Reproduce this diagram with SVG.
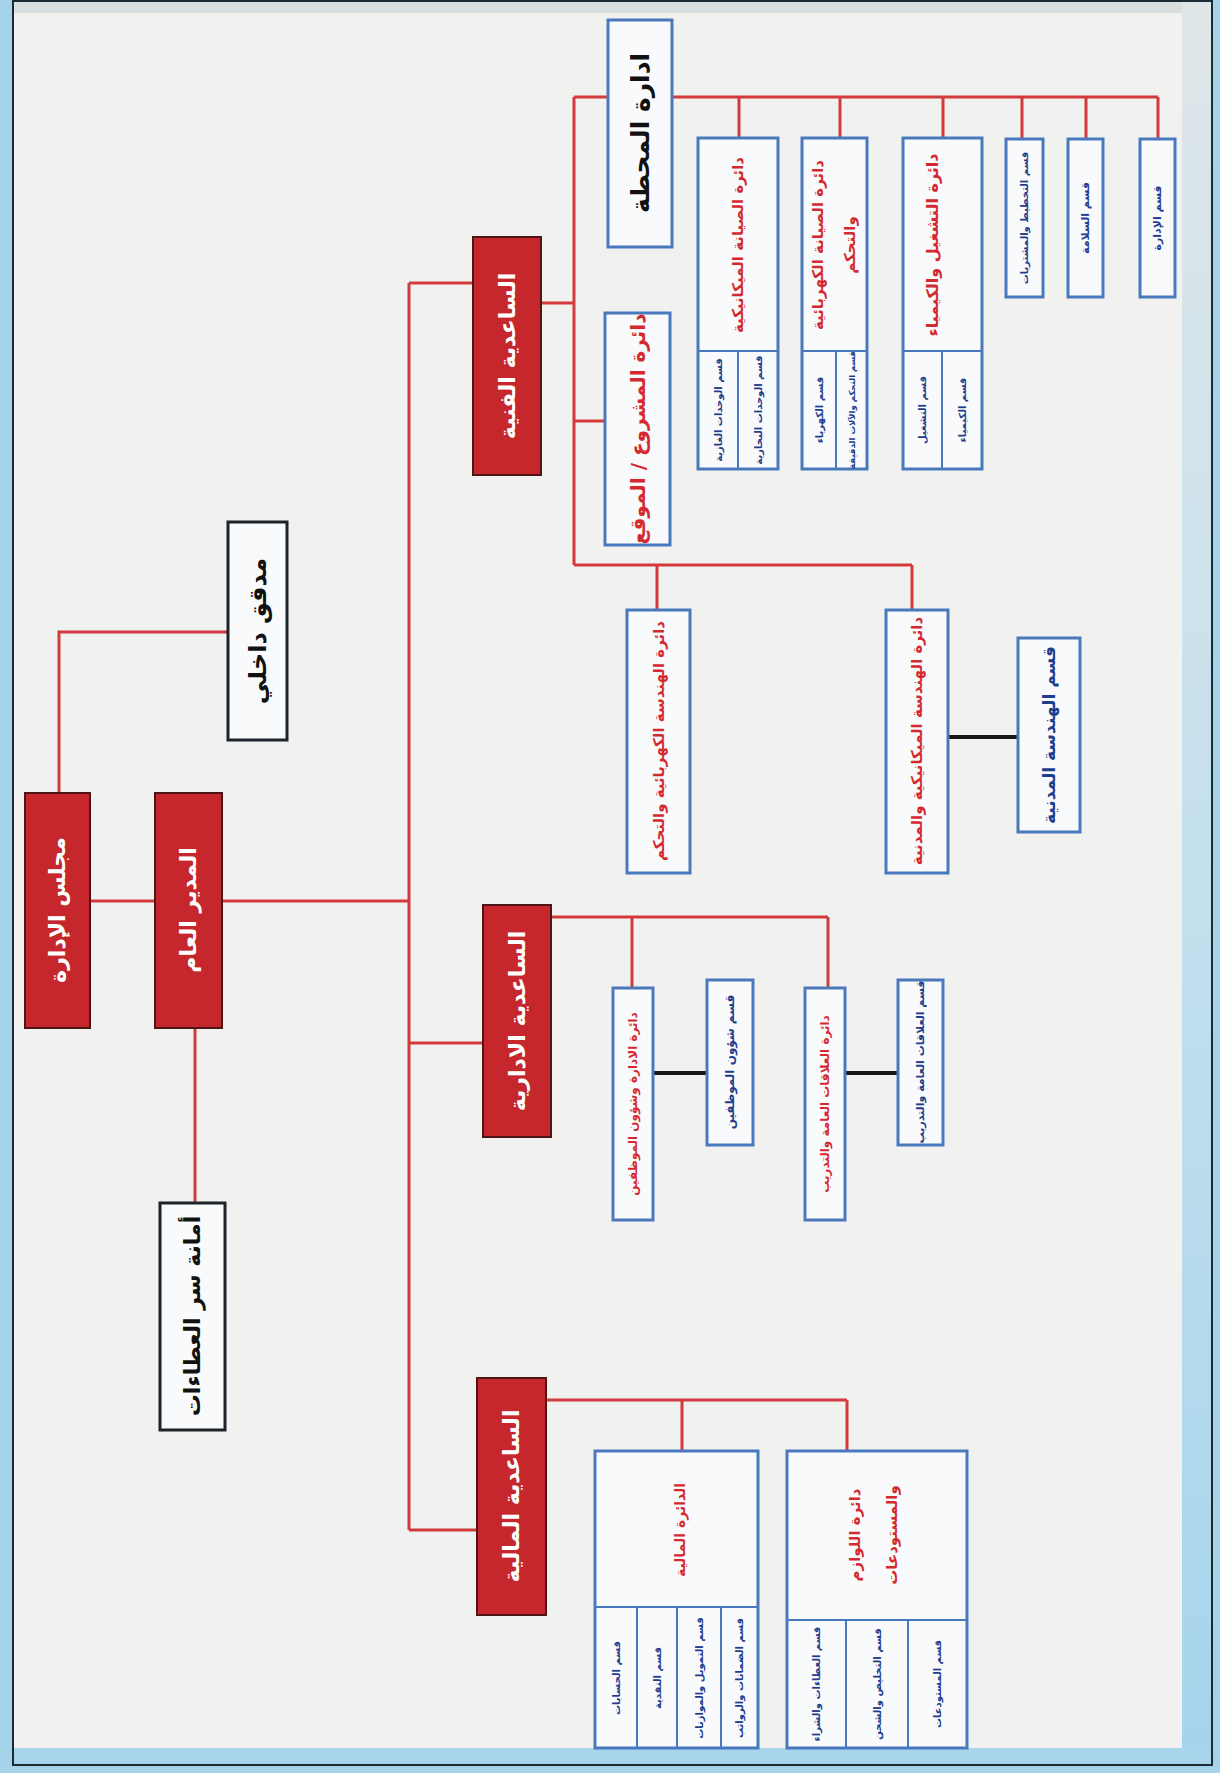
<svg xmlns="http://www.w3.org/2000/svg" width="1220" height="1773" viewBox="0 0 1220 1773">
<defs>
<linearGradient id="rm" x1="0" y1="0" x2="0" y2="1">
<stop offset="0" stop-color="#dfe6e8"/>
<stop offset="0.5" stop-color="#c4e0ee"/>
<stop offset="1" stop-color="#a6d4ec"/>
</linearGradient>
<style>
text{font-family:"DejaVu Sans","Noto Sans",sans-serif;font-weight:bold;text-anchor:middle;dominant-baseline:central}
.red rect{fill:#c5272c;stroke:#4d1515;stroke-width:2}
.red text{fill:#ffffff;font-size:22px}
.wb rect,.wb line{fill:#f9fafb;stroke:#4a78bd;stroke-width:3}
.wb line.d{stroke-width:2}
.kb rect{fill:#f9fafb;stroke:#1d2328;stroke-width:3}
.kb text{fill:#111111}
.tr{fill:#d42a2f}
.tb{fill:#1f3d8e}
.tk{fill:#111111}
#connectors path{fill:none;stroke:#d23a3c;stroke-width:3}
#connectors path.k{stroke:#161616;stroke-width:4}
</style>
</defs>
<rect x="0" y="0" width="1220" height="1773" fill="#a5d3ea"/>
<rect x="13" y="1" width="1199" height="1764" fill="#a9d5ec" stroke="#1b2b33" stroke-width="2"/>
<rect x="14" y="2" width="1197" height="11" fill="#d9dfe0"/>
<rect x="1182" y="2" width="29" height="1746" fill="url(#rm)"/>
<rect x="14" y="13" width="1168" height="1735" fill="#f1f2f0"/>

<g id="connectors">
<path d="M59,793 V632 H228"/>
<path d="M90,901 H155"/>
<path d="M222,901 H409"/>
<path d="M195,1028 V1203"/>
<path d="M409,283 V1530"/>
<path d="M409,283 H473"/>
<path d="M409,1043 H483"/>
<path d="M409,1530 H477"/>
<path d="M541,303 H574"/>
<path d="M574,97 V565"/>
<path d="M574,97 H608"/>
<path d="M672,97 H1158"/>
<path d="M739,97 V138"/>
<path d="M840,97 V138"/>
<path d="M943,97 V138"/>
<path d="M1022,97 V139"/>
<path d="M1086,97 V139"/>
<path d="M1158,97 V139"/>
<path d="M574,421 H605"/>
<path d="M574,565 H912"/>
<path d="M657,565 V610"/>
<path d="M912,565 V610"/>
<path d="M551,917 H828"/>
<path d="M632,917 V988"/>
<path d="M828,917 V988"/>
<path d="M546,1400 H847"/>
<path d="M682,1400 V1451"/>
<path d="M847,1400 V1451"/>
<path class="k" d="M948,737 H1018"/>
<path class="k" d="M653,1073 H707"/>
<path class="k" d="M845,1073 H898"/>
</g>

<g id="n-majlis" class="red"><rect x="25" y="793" width="65" height="235"/><text transform="translate(57.5 910) rotate(-90)">مجلس الإدارة</text></g>
<g id="n-mudir" class="red"><rect x="155" y="793" width="67" height="235"/><text transform="translate(188.5 910) rotate(-90)">المدير العام</text></g>
<g id="n-mudaqqiq" class="kb"><rect x="228" y="522" width="59" height="218"/><text font-size="24" transform="translate(257.5 631) rotate(-90)">مدقق داخلي</text></g>
<g id="n-amana" class="kb"><rect x="160" y="1203" width="65" height="227"/><text font-size="22" transform="translate(192.5 1316) rotate(-90)">أمانة سر العطاءات</text></g>

<g id="n-fanniya" class="red"><rect x="473" y="237" width="68" height="238"/><text transform="translate(507 356) rotate(-90)">الساعدية الفنية</text></g>
<g id="n-idariya" class="red"><rect x="483" y="905" width="68" height="232"/><text transform="translate(517 1021) rotate(-90)">الساعدية الادارية</text></g>
<g id="n-maliya" class="red"><rect x="477" y="1378" width="69" height="237"/><text transform="translate(511.5 1496) rotate(-90)">الساعدية المالية</text></g>

<g id="n-mahatta" class="wb"><rect x="608" y="20" width="64" height="227"/><text class="tk" font-size="25" transform="translate(640 133) rotate(-90)">ادارة المحطة</text></g>
<g id="n-mashroo" class="wb"><rect x="605" y="313" width="65" height="232"/><text class="tr" font-size="20" transform="translate(637.5 429) rotate(-90)">دائرة المشروع / الموقع</text></g>

<g id="n-siyana-mech" class="wb"><rect x="698" y="138" width="80" height="331"/><line class="d" x1="698" y1="351" x2="778" y2="351"/><line class="d" x1="738" y1="351" x2="738" y2="469"/>
<text class="tr" font-size="15" transform="translate(738 245) rotate(-90)">دائرة الصيانة الميكانيكية</text>
<text class="tb" font-size="10" transform="translate(718 410) rotate(-90)">قسم الوحدات الغازية</text>
<text class="tb" font-size="10" transform="translate(758 410) rotate(-90)">قسم الوحدات البخارية</text></g>

<g id="n-siyana-elec" class="wb"><rect x="802" y="138" width="65" height="331"/><line class="d" x1="802" y1="351" x2="867" y2="351"/><line class="d" x1="836" y1="351" x2="836" y2="469"/>
<text class="tr" font-size="15" transform="translate(818 245) rotate(-90)">دائرة الصيانة الكهربائية</text>
<text class="tr" font-size="15" transform="translate(850 245) rotate(-90)">والتحكم</text>
<text class="tb" font-size="10" transform="translate(819 410) rotate(-90)">قسم الكهرباء</text>
<text class="tb" font-size="8.5" transform="translate(851.5 410) rotate(-90)">قسم التحكم والآلات الدقيقة</text></g>

<g id="n-tashgheel" class="wb"><rect x="903" y="138" width="79" height="331"/><line class="d" x1="903" y1="351" x2="982" y2="351"/><line class="d" x1="942" y1="351" x2="942" y2="469"/>
<text class="tr" font-size="16" transform="translate(932 245) rotate(-90)">دائرة التشغيل والكيمياء</text>
<text class="tb" font-size="10" transform="translate(922.5 410) rotate(-90)">قسم التشغيل</text>
<text class="tb" font-size="10" transform="translate(962 410) rotate(-90)">قسم الكيمياء</text></g>

<g id="n-takhteet" class="wb"><rect x="1006" y="139" width="37" height="158"/><text class="tb" font-size="10" transform="translate(1024.5 218) rotate(-90)">قسم التخطيط والمشتريات</text></g>
<g id="n-salama" class="wb"><rect x="1068" y="139" width="35" height="158"/><text class="tb" font-size="11" transform="translate(1085.5 218) rotate(-90)">قسم السلامة</text></g>
<g id="n-idara" class="wb"><rect x="1140" y="139" width="35" height="158"/><text class="tb" font-size="11" transform="translate(1157.5 218) rotate(-90)">قسم الإدارة</text></g>

<g id="n-hand-elec" class="wb"><rect x="627" y="610" width="63" height="263"/><text class="tr" font-size="15" transform="translate(658.5 741) rotate(-90)">دائرة الهندسة الكهربائية والتحكم</text></g>
<g id="n-hand-mech" class="wb"><rect x="886" y="610" width="62" height="263"/><text class="tr" font-size="15" transform="translate(917 741) rotate(-90)">دائرة الهندسة الميكانيكية والمدنية</text></g>
<g id="n-madaniya" class="wb"><rect x="1018" y="638" width="62" height="194"/><text class="tb" font-size="17" transform="translate(1049 735) rotate(-90)">قسم الهندسة المدنية</text></g>

<g id="n-d-idara" class="wb"><rect x="613" y="988" width="40" height="232"/><text class="tr" font-size="12" transform="translate(633 1104) rotate(-90)">دائرة الادارة وشؤون الموظفين</text></g>
<g id="n-q-shuoon" class="wb"><rect x="707" y="980" width="46" height="165"/><text class="tb" font-size="12" transform="translate(730 1062) rotate(-90)">قسم شؤون الموظفين</text></g>
<g id="n-d-alaqat" class="wb"><rect x="805" y="988" width="40" height="232"/><text class="tr" font-size="12" transform="translate(825 1104) rotate(-90)">دائرة العلاقات العامة والتدريب</text></g>
<g id="n-q-alaqat" class="wb"><rect x="898" y="980" width="45" height="165"/><text class="tb" font-size="11" transform="translate(920.5 1062) rotate(-90)">قسم العلاقات العامة والتدريب</text></g>

<g id="n-d-maliya" class="wb"><rect x="595" y="1451" width="163" height="297"/><line class="d" x1="595" y1="1607" x2="758" y2="1607"/><line class="d" x1="637" y1="1607" x2="637" y2="1748"/><line class="d" x1="677" y1="1607" x2="677" y2="1748"/><line class="d" x1="721" y1="1607" x2="721" y2="1748"/>
<text class="tr" font-size="14" transform="translate(680 1530) rotate(-90)">الدائرة المالية</text>
<text class="tb" font-size="10" transform="translate(616 1678) rotate(-90)">قسم الحسابات</text>
<text class="tb" font-size="10" transform="translate(657 1678) rotate(-90)">قسم النقدية</text>
<text class="tb" font-size="10" transform="translate(699 1678) rotate(-90)">قسم التمويل والموازنات</text>
<text class="tb" font-size="10" transform="translate(739.5 1678) rotate(-90)">قسم الضمانات والرواتب</text></g>

<g id="n-d-lawazim" class="wb"><rect x="787" y="1451" width="180" height="297"/><line class="d" x1="787" y1="1620" x2="967" y2="1620"/><line class="d" x1="846" y1="1620" x2="846" y2="1748"/><line class="d" x1="908" y1="1620" x2="908" y2="1748"/>
<text class="tr" font-size="15" transform="translate(855 1535) rotate(-90)">دائرة اللوازم</text>
<text class="tr" font-size="15" transform="translate(892 1535) rotate(-90)">والمستودعات</text>
<text class="tb" font-size="10" transform="translate(816.5 1684) rotate(-90)">قسم العطاءات والشراء</text>
<text class="tb" font-size="10" transform="translate(877 1684) rotate(-90)">قسم التخليص والشحن</text>
<text class="tb" font-size="10" transform="translate(937.5 1684) rotate(-90)">قسم المستودعات</text></g>
</svg>
